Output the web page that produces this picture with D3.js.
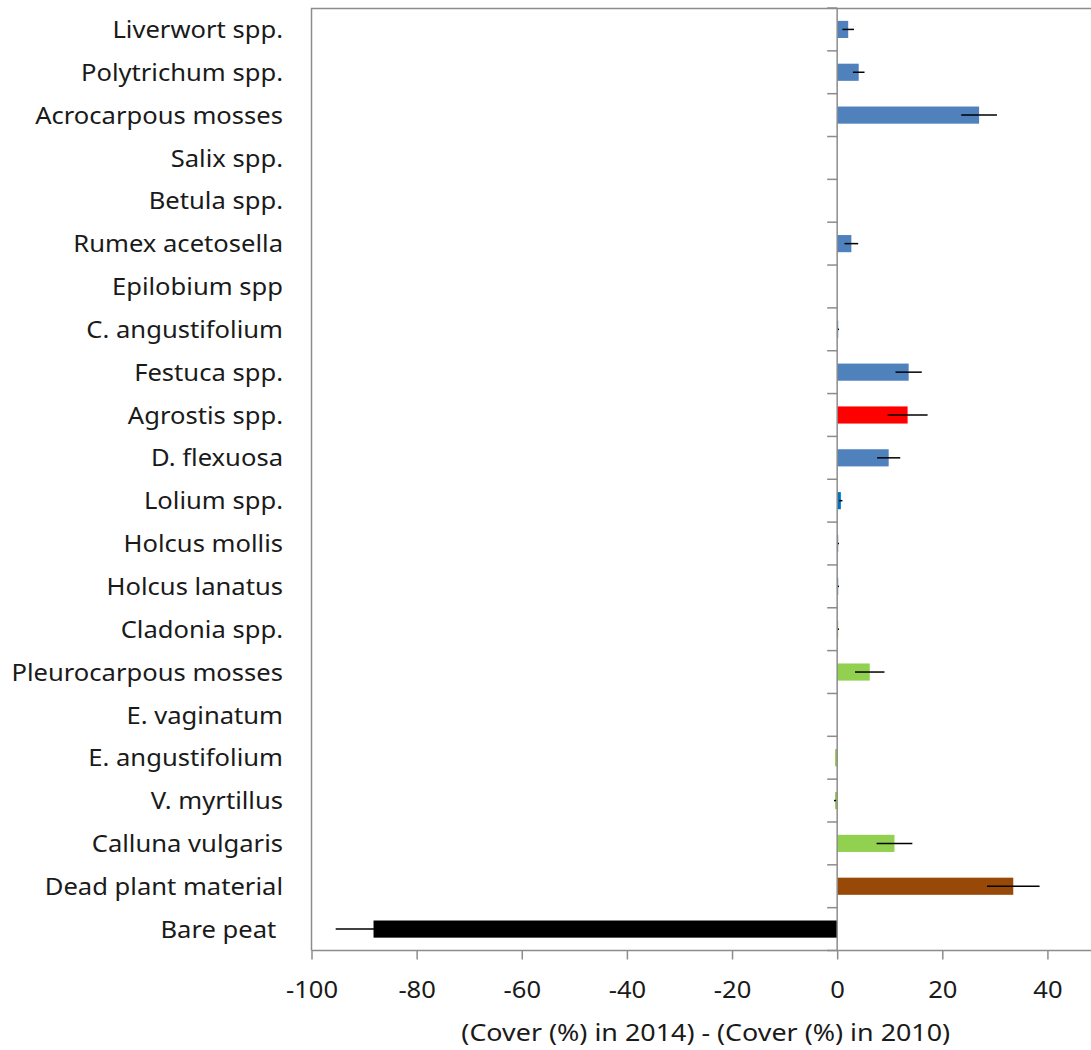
<!DOCTYPE html>
<html>
<head>
<meta charset="utf-8">
<script src="https://cdn.jsdelivr.net/npm/d3@7"></script>
<style>
  html, body { margin: 0; padding: 0; background: #fff; }
  svg { display: block; }
  text { font-family: "Noto Sans", "Open Sans", sans-serif; fill: #1a1a1a; white-space: pre; }
</style>
</head>
<body>
<svg id="chart" width="1091" height="1050"></svg>
<script>
// ---- data ----
const categories = [
  "Liverwort spp.", "Polytrichum spp.", "Acrocarpous mosses", "Salix spp.", "Betula spp.",
  "Rumex acetosella", "Epilobium spp", "C. angustifolium", "Festuca spp.", "Agrostis spp.",
  "D. flexuosa", "Lolium spp.", "Holcus mollis", "Holcus lanatus", "Cladonia spp.",
  "Pleurocarpous mosses", "E. vaginatum", "E. angustifolium", "V. myrtillus", "Calluna vulgaris",
  "Dead plant material", "Bare peat "
];
const values = [2.1, 4.1, 27.0, 0, 0, 2.7, 0, 0.2, 13.6, 13.4, 9.8, 0.7, 0.2, 0.2, 0.2,
  6.2, 0, -0.4, -0.4, 10.9, 33.5, -88.2];
const errors = [1.1, 1.1, 3.4, 0, 0, 1.3, 0, 0.15, 2.5, 3.8, 2.2, 0.3, 0.15, 0.15, 0.15,
  2.8, 0, 0, 0.2, 3.4, 5.0, 7.2];
const barColors = ["#4F81BD", "#4F81BD", "#4F81BD", "#4F81BD", "#4F81BD",
  "#4F81BD", "#4F81BD", "#4F81BD", "#4F81BD", "#FF0000",
  "#4F81BD", "#0070C0", "#4F81BD", "#4F81BD", "#92D050",
  "#92D050", "#92D050", "#92D050", "#92D050", "#92D050",
  "#984807", "#000000"];
const xTicks = [-100, -80, -60, -40, -20, 0, 20, 40];
const xTickLabels = ["-100", "-80", "-60", "-40", "-20", "0", "20", "40"];
const xDomain = [-100, 50];
const xTitle = "(Cover (%) in 2014) - (Cover (%) in 2010)";

// ---- layout ----
const W = 1091, H = 1050;
const plotLeft = 311.5, plotRight = 1100, plotTop = 8, plotBottom = 950.5;
const fontSize = 24;
const axisColor = "#8c8c8c";

const svg = d3.select("#chart");

const x = d3.scaleLinear().domain(xDomain).range([plotLeft, plotRight]);
const y = d3.scaleBand().domain(categories).range([plotTop, plotBottom])
  .paddingInner(0.6).paddingOuter(0.3);

// horizontal text stretch factor to mimic the reference's wide glyphs
const probe = svg.append("text").attr("font-size", fontSize).text("Acrocarpous mosses");
const sx = 248 / probe.node().getComputedTextLength();
probe.remove();

// plot frame
svg.append("path")
  .attr("d", `M${plotLeft},${plotBottom}V${plotTop + 0.5}H${W + 5}`)
  .attr("fill", "none").attr("stroke", axisColor).attr("stroke-width", 1.5);

// bars
const data = categories.map((c, i) => ({ c, v: values[i], e: errors[i], col: barColors[i] }));
svg.append("g").selectAll("rect").data(data).join("rect")
  .attr("x", d => x(Math.min(0, d.v)))
  .attr("y", d => y(d.c))
  .attr("width", d => Math.abs(x(d.v) - x(0)))
  .attr("height", y.bandwidth())
  .attr("fill", d => d.col);

// error bars
svg.append("g").selectAll("line").data(data.filter(d => d.e > 0)).join("line")
  .attr("x1", d => x(d.v - d.e))
  .attr("x2", d => x(d.v + d.e))
  .attr("y1", d => y(d.c) + y.bandwidth() / 2)
  .attr("y2", d => y(d.c) + y.bandwidth() / 2)
  .attr("stroke", "#000").attr("stroke-width", 1.5);

// y axis at zero with ticks at category boundaries
const boundaries = d3.range(categories.length + 1).map(i => plotTop + i * y.step());
const yAxis = svg.append("g");
yAxis.append("line")
  .attr("x1", x(0)).attr("x2", x(0))
  .attr("y1", plotTop).attr("y2", plotBottom)
  .attr("stroke", axisColor).attr("stroke-width", 1.5);
yAxis.selectAll("line.tick").data(boundaries).join("line").attr("class", "tick")
  .attr("x1", x(0) - 10).attr("x2", x(0))
  .attr("y1", d => d).attr("y2", d => d)
  .attr("stroke", axisColor).attr("stroke-width", 1.5);

// category labels
svg.append("g").selectAll("text").data(categories).join("text")
  .attr("transform", d => `translate(283,${y(d) + y.bandwidth() / 2}) scale(${sx},1)`)
  .attr("text-anchor", "end")
  .attr("dy", "0.36em")
  .attr("font-size", fontSize)
  .text(d => d);

// x axis
const xAxis = svg.append("g").attr("transform", `translate(0,${plotBottom})`)
  .call(d3.axisBottom(x).tickValues(xTicks).tickSize(9).tickSizeOuter(0)
    .tickFormat((d, i) => xTickLabels[i]));
xAxis.select(".domain").remove();
xAxis.append("line").attr("x1", plotLeft).attr("x2", W + 5)
  .attr("stroke", axisColor).attr("stroke-width", 1.5);
xAxis.selectAll(".tick line").attr("stroke", axisColor).attr("stroke-width", 1.5);
xAxis.selectAll(".tick text")
  .attr("y", null).attr("dy", null)
  .attr("transform", `translate(0,47) scale(${sx},1)`)
  .attr("text-anchor", "middle")
  .attr("font-size", fontSize)
  .attr("font-family", null)
  .attr("fill", "#1a1a1a");
xAxis.attr("font-family", null).attr("font-size", null);

// x title
svg.append("text")
  .attr("transform", `translate(${(plotLeft + plotRight) / 2},1041) scale(${sx * 1.05},1)`)
  .attr("text-anchor", "middle")
  .attr("font-size", fontSize)
  .text(xTitle);
</script>
</body>
</html>
